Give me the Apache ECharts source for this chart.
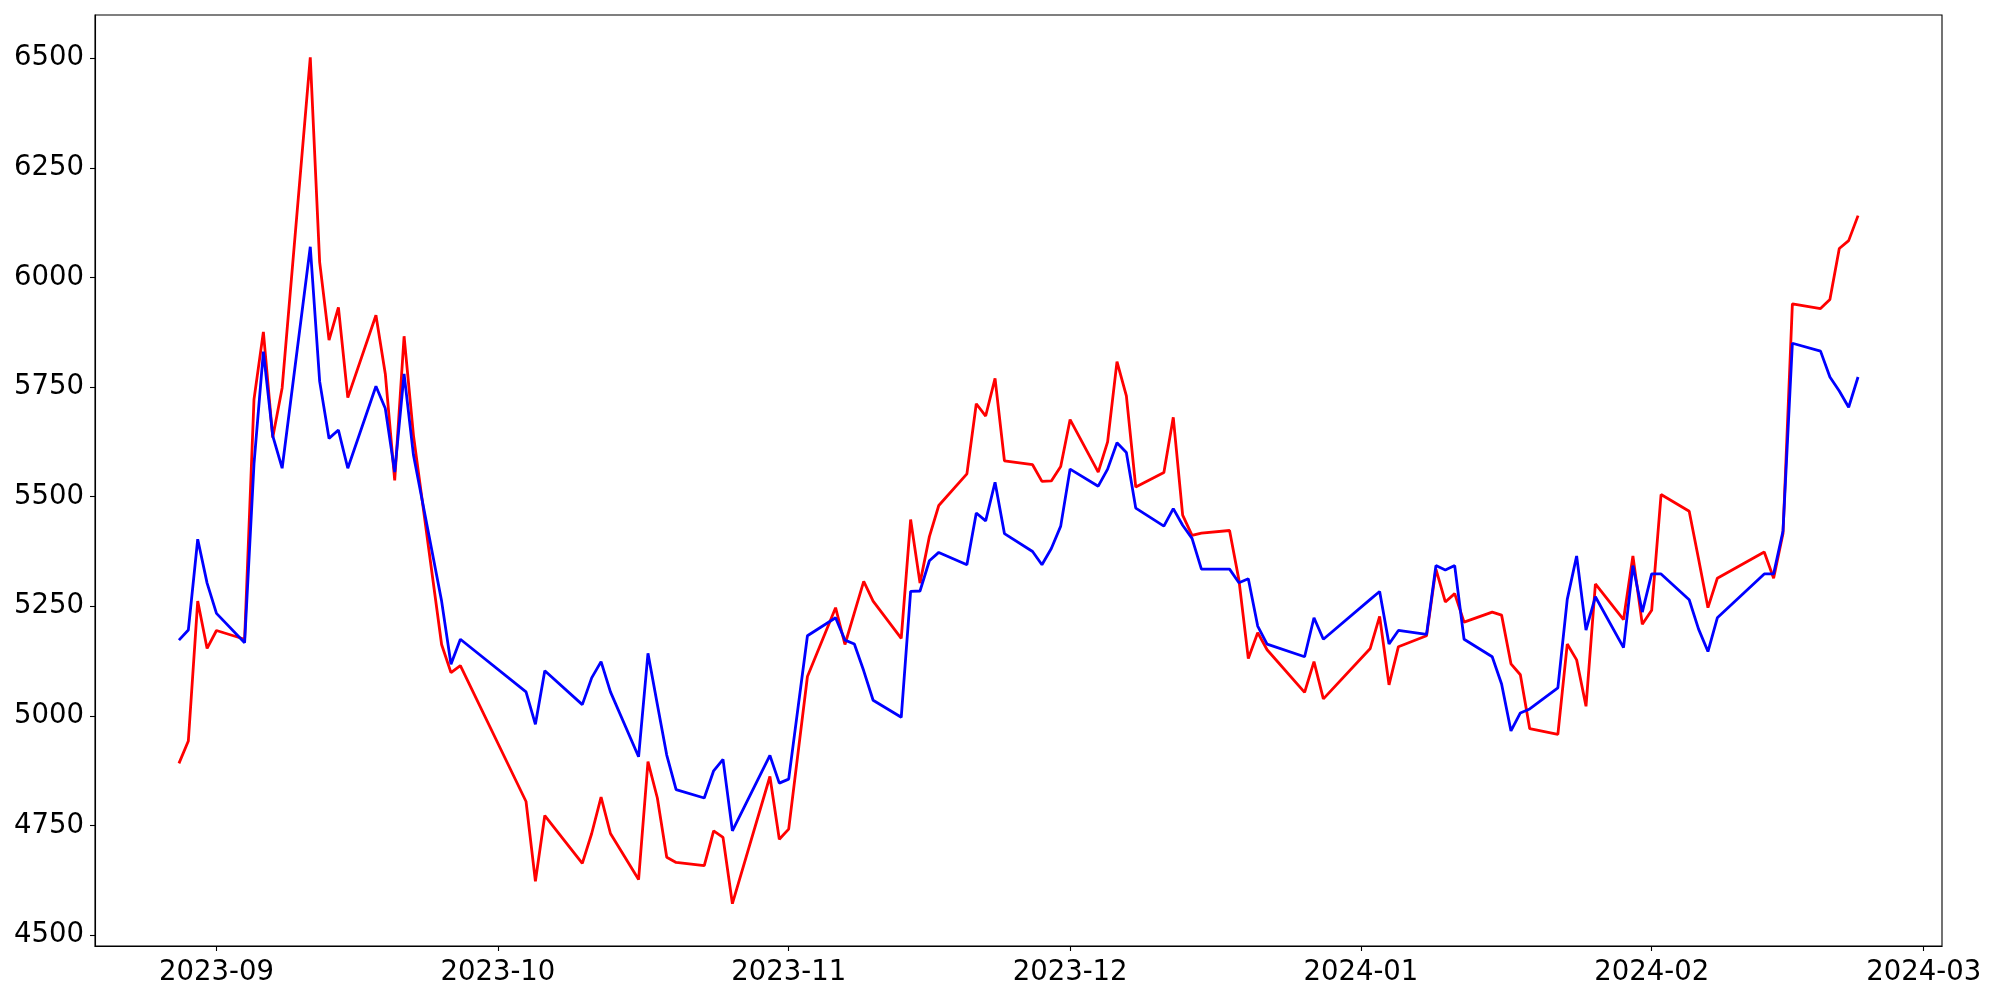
<!DOCTYPE html>
<html>
<head>
<meta charset="utf-8">
<script src="https://cdn.jsdelivr.net/npm/echarts@6/dist/echarts.min.js"></script>
<style>
html,body{margin:0;padding:0;background:#fff;}
#chart{width:2000px;height:1000px;}
</style>
</head>
<body>
<div id="chart"></div>
<script>
const dates = [
'2023-08-28','2023-08-29','2023-08-30','2023-08-31','2023-09-01',
'2023-09-04','2023-09-05','2023-09-06','2023-09-07','2023-09-08',
'2023-09-11','2023-09-12','2023-09-13','2023-09-14','2023-09-15',
'2023-09-18','2023-09-19','2023-09-20','2023-09-21','2023-09-22',
'2023-09-25','2023-09-26','2023-09-27',
'2023-10-04','2023-10-05','2023-10-06',
'2023-10-10','2023-10-11','2023-10-12','2023-10-13',
'2023-10-16','2023-10-17','2023-10-18','2023-10-19','2023-10-20',
'2023-10-23','2023-10-24','2023-10-25','2023-10-26',
'2023-10-30','2023-10-31','2023-11-01','2023-11-03',
'2023-11-06','2023-11-07','2023-11-08','2023-11-09','2023-11-10',
'2023-11-13','2023-11-14','2023-11-15','2023-11-16','2023-11-17',
'2023-11-20','2023-11-21','2023-11-22','2023-11-23','2023-11-24',
'2023-11-27','2023-11-28','2023-11-29','2023-11-30','2023-12-01',
'2023-12-04','2023-12-05','2023-12-06','2023-12-07','2023-12-08',
'2023-12-11','2023-12-12','2023-12-13','2023-12-14','2023-12-15',
'2023-12-18','2023-12-19','2023-12-20','2023-12-21','2023-12-22',
'2023-12-26','2023-12-27','2023-12-28',
'2024-01-02','2024-01-03','2024-01-04','2024-01-05',
'2024-01-08','2024-01-09','2024-01-10','2024-01-11','2024-01-12',
'2024-01-15','2024-01-16','2024-01-17','2024-01-18','2024-01-19',
'2024-01-22','2024-01-23','2024-01-24','2024-01-25','2024-01-26',
'2024-01-29','2024-01-30','2024-01-31','2024-02-01','2024-02-02',
'2024-02-05','2024-02-06','2024-02-07','2024-02-08',
'2024-02-13','2024-02-14','2024-02-15','2024-02-16',
'2024-02-19','2024-02-20','2024-02-21','2024-02-22','2024-02-23'
];

const redValues = [
4892,4943,5262,5154,5195,
5175,5722,5876,5635,5748,
6502,6035,5857,5932,5726,
5914,5780,5537,5866,5640,
5163,5099,5115,
4805,4623,4773,
4664,4732,4815,4732,
4627,4896,4813,4678,4666,
4659,4738,4723,4572,
4862,4719,4742,5090,
5247,5163,5235,5307,5262,
5177,5448,5303,5409,5480,
5552,5712,5684,5770,5582,
5573,5535,5536,5569,5676,
5556,5625,5808,5730,5522,
5555,5681,5458,5412,5417,
5423,5310,5131,5190,5151,
5054,5124,5039,
5154,5227,5071,5158,
5183,5335,5260,5279,5214,
5237,5230,5119,5094,4971,
4958,5164,5128,5022,5301,
5220,5365,5209,5241,5505,
5467,5358,5247,5314,
5374,5314,5416,5940,
5929,5950,6066,6084,6141
];

const blueValues = [
5173,5196,5403,5303,5234,
5167,5575,5831,5639,5565,
6070,5763,5633,5652,5565,
5752,5701,5556,5780,5595,
5262,5118,5175,
5055,4981,5103,
5026,5087,5124,5055,
4907,5143,5026,4911,4832,
4813,4875,4901,4738,
4910,4847,4856,5183,
5224,5173,5164,5103,5036,
4997,5284,5285,5354,5373,
5345,5463,5445,5533,5416,
5375,5345,5382,5433,5563,
5524,5563,5623,5601,5474,
5433,5473,5435,5405,5335,
5335,5304,5313,5205,5164,
5135,5224,5175,
5266,5284,5164,5195,
5186,5343,5333,5343,5175,
5135,5073,4966,5007,5016,
5064,5266,5365,5196,5272,
5156,5343,5237,5324,5324,
5265,5198,5147,5224,
5324,5324,5422,5850,
5832,5773,5741,5704,5773
];

const yTicks = [4500,4750,5000,5250,5500,5750,6000,6250,6500];
const xTickLabels = ['2023-09','2023-10','2023-11','2023-12','2024-01','2024-02','2024-03'];

function ts(s){ const p = s.split('-').map(Number); return Date.UTC(p[0], p[1]-1, p[2] || 1); }
const t0 = ts(dates[0]), t1 = ts(dates[dates.length-1]);
const span = t1 - t0;
const xMin = t0 - 0.05*span, xMax = t1 + 0.05*span;
const allV = redValues.concat(blueValues);
const vMin = Math.min.apply(null, allV), vMax = Math.max.apply(null, allV);
const yMin = vMin - 0.05*(vMax-vMin), yMax = vMax + 0.05*(vMax-vMin);
const xTickVals = xTickLabels.map(ts);

function fmtX(v){
  const d = new Date(v);
  const m = d.getUTCMonth()+1;
  return d.getUTCFullYear() + '-' + (m<10?'0':'') + m;
}
function fmtY(v){ return String(Math.round(v)); }

const font = {fontFamily:'DejaVu Sans', fontSize:27.5, color:'#000'};

const chart = echarts.init(document.getElementById('chart'), null, {renderer:'canvas'});
chart.setOption({
  animation:false,
  backgroundColor:'#fff',
  grid:{left:95, right:58, top:15, bottom:54, show:true, borderColor:'#000', borderWidth:1.1, containLabel:false},
  xAxis:{
    type:'value', min:xMin, max:xMax, scale:true,
    splitLine:{show:false},
    axisLine:{show:true, lineStyle:{color:'#000', width:1.1}},
    axisTick:{show:true, length:5, lineStyle:{color:'#000', width:1.1}, customValues:xTickVals},
    axisLabel:Object.assign({show:true, margin:13, formatter:fmtX, customValues:xTickVals, hideOverlap:false}, font)
  },
  yAxis:{
    type:'value', min:yMin, max:yMax, scale:true,
    splitLine:{show:false},
    axisLine:{show:true, lineStyle:{color:'#000', width:1.1}},
    axisTick:{show:true, length:5, lineStyle:{color:'#000', width:1.1}, customValues:yTicks},
    axisLabel:Object.assign({show:true, margin:11, formatter:fmtY, customValues:yTicks}, font)
  },
  series:[
    {type:'line', name:'red', data:dates.map((d,i)=>[ts(d), redValues[i]]), showSymbol:false, symbol:'none',
     lineStyle:{color:'#ff0000', width:2.8}, itemStyle:{color:'#ff0000'}, z:2},
    {type:'line', name:'blue', data:dates.map((d,i)=>[ts(d), blueValues[i]]), showSymbol:false, symbol:'none',
     lineStyle:{color:'#0000ff', width:2.8}, itemStyle:{color:'#0000ff'}, z:3}
  ]
});
</script>
</body>
</html>
